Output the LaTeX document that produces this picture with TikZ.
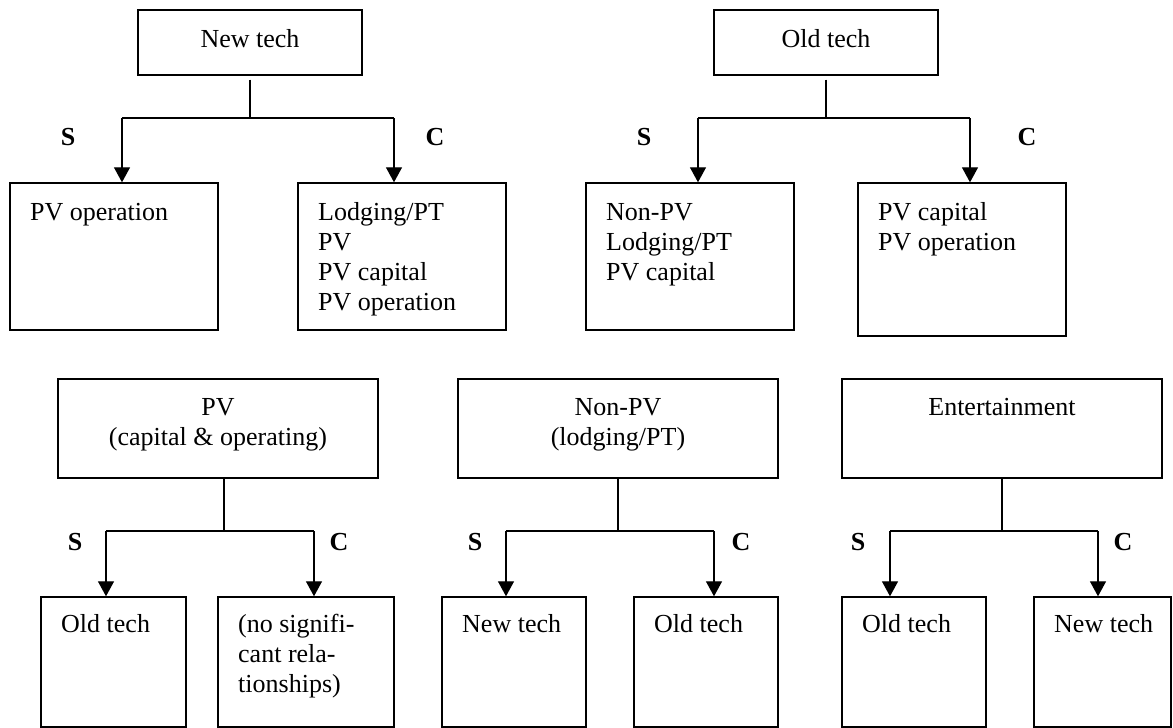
\documentclass[tikz,border=0pt]{standalone}
\usepackage{fontspec}
\setmainfont{Liberation Serif}
\usetikzlibrary{arrows.meta,fit}
\begin{document}
\begin{tikzpicture}[x=1pt,y=-1pt,
  box/.style={draw, line width=1.4pt, inner sep=0pt},
  txt/.style={inner sep=0pt, font=\fontsize{26}{30}\selectfont},
  lab/.style={inner sep=0pt, anchor=base, font=\fontsize{26}{30}\selectfont\bfseries},
  conn/.style={line width=1.3pt},
  arr/.style={line width=1.3pt, -{Triangle[length=15pt,width=16pt]}}]
\useasboundingbox (0,0) rectangle (1173,728);

% ---------- New tech ----------
\node[box, fit={(138,10)(362,75)}] (nt) {};
\node[txt, anchor=base] (ntt) at (250,47) {New tech};
\coordinate (nt-j) at (250,118);
\coordinate (nt-l) at (122,118);
\coordinate (nt-r) at (394,118);
\node[box, fit={(10,183)(218,330)}] (nt1) {};
\node[box, fit={(298,183)(506,330)}] (nt2) {};
\node[txt, anchor=base west] (nt1t) at (30,220) {PV operation};
\node[txt, anchor=base west] (nt2t) at (318,220) {\begin{tabular}[t]{@{}l@{}}Lodging/PT\\PV\\PV capital\\PV operation\end{tabular}};
\node[lab] (nts) at (68,145) {S};
\node[lab] (ntc) at (435,145) {C};
\draw[conn] ([yshift=-4pt]nt.south) -- (nt-j);
\draw[conn] (nt-l) -- (nt-r);
\draw[arr] (nt-l) -- (nt-l |- nt1.north);
\draw[arr] (nt-r) -- (nt-r |- nt2.north);

% ---------- Old tech ----------
\node[box, fit={(714,10)(938,75)}] (ot) {};
\node[txt, anchor=base] (ott) at (826,47) {Old tech};
\coordinate (ot-j) at (826,118);
\coordinate (ot-l) at (698,118);
\coordinate (ot-r) at (970,118);
\node[box, fit={(586,183)(794,330)}] (ot1) {};
\node[box, fit={(858,183)(1066,336)}] (ot2) {};
\node[txt, anchor=base west] (ot1t) at (606,220) {\begin{tabular}[t]{@{}l@{}}Non-PV\\Lodging/PT\\PV capital\end{tabular}};
\node[txt, anchor=base west] (ot2t) at (878,220) {\begin{tabular}[t]{@{}l@{}}PV capital\\PV operation\end{tabular}};
\node[lab] (ots) at (644,145) {S};
\node[lab] (otc) at (1027,145) {C};
\draw[conn] ([yshift=-4pt]ot.south) -- (ot-j);
\draw[conn] (ot-l) -- (ot-r);
\draw[arr] (ot-l) -- (ot-l |- ot1.north);
\draw[arr] (ot-r) -- (ot-r |- ot2.north);

% ---------- PV ----------
\node[box, fit={(58,379)(378,478)}] (pv) {};
\node[txt, anchor=base] (pvt) at (218,415) {\begin{tabular}[t]{@{}c@{}}PV\\(capital \& operating)\end{tabular}};
\coordinate (pv-j) at (224,531);
\coordinate (pv-l) at (106,531);
\coordinate (pv-r) at (314,531);
\node[box, fit={(41,597)(186,727)}] (pv1) {};
\node[box, fit={(218,597)(394,727)}] (pv2) {};
\node[txt, anchor=base west] (pv1t) at (61,632) {Old tech};
\node[txt, anchor=base west] (pv2t) at (238,632) {\begin{tabular}[t]{@{}l@{}}(no signifi-\\cant rela-\\tionships)\end{tabular}};
\node[lab] (pvs) at (75,550) {S};
\node[lab] (pvc) at (339,550) {C};
\draw[conn] (pv.south -| pv-j) -- (pv-j);
\draw[conn] (pv-l) -- (pv-r);
\draw[arr] (pv-l) -- (pv-l |- pv1.north);
\draw[arr] (pv-r) -- (pv-r |- pv2.north);

% ---------- Non-PV ----------
\node[box, fit={(458,379)(778,478)}] (np) {};
\node[txt, anchor=base] (npt) at (618,415) {\begin{tabular}[t]{@{}c@{}}Non-PV\\(lodging/PT)\end{tabular}};
\coordinate (np-j) at (618,531);
\coordinate (np-l) at (506,531);
\coordinate (np-r) at (714,531);
\node[box, fit={(442,597)(586,727)}] (np1) {};
\node[box, fit={(634,597)(778,727)}] (np2) {};
\node[txt, anchor=base west] (np1t) at (462,632) {New tech};
\node[txt, anchor=base west] (np2t) at (654,632) {Old tech};
\node[lab] (nps) at (475,550) {S};
\node[lab] (npc) at (741,550) {C};
\draw[conn] (np.south) -- (np-j);
\draw[conn] (np-l) -- (np-r);
\draw[arr] (np-l) -- (np-l |- np1.north);
\draw[arr] (np-r) -- (np-r |- np2.north);

% ---------- Entertainment ----------
\node[box, fit={(842,379)(1162,478)}] (en) {};
\node[txt, anchor=base] (ent) at (1002,415) {Entertainment};
\coordinate (en-j) at (1002,531);
\coordinate (en-l) at (890,531);
\coordinate (en-r) at (1098,531);
\node[box, fit={(842,597)(986,727)}] (en1) {};
\node[box, fit={(1034,597)(1171,727)}] (en2) {};
\node[txt, anchor=base west] (en1t) at (862,632) {Old tech};
\node[txt, anchor=base west] (en2t) at (1054,632) {New tech};
\node[lab] (ens) at (858,550) {S};
\node[lab] (enc) at (1123,550) {C};
\draw[conn] (en.south) -- (en-j);
\draw[conn] (en-l) -- (en-r);
\draw[arr] (en-l) -- (en-l |- en1.north);
\draw[arr] (en-r) -- (en-r |- en2.north);
\end{tikzpicture}
\end{document}
